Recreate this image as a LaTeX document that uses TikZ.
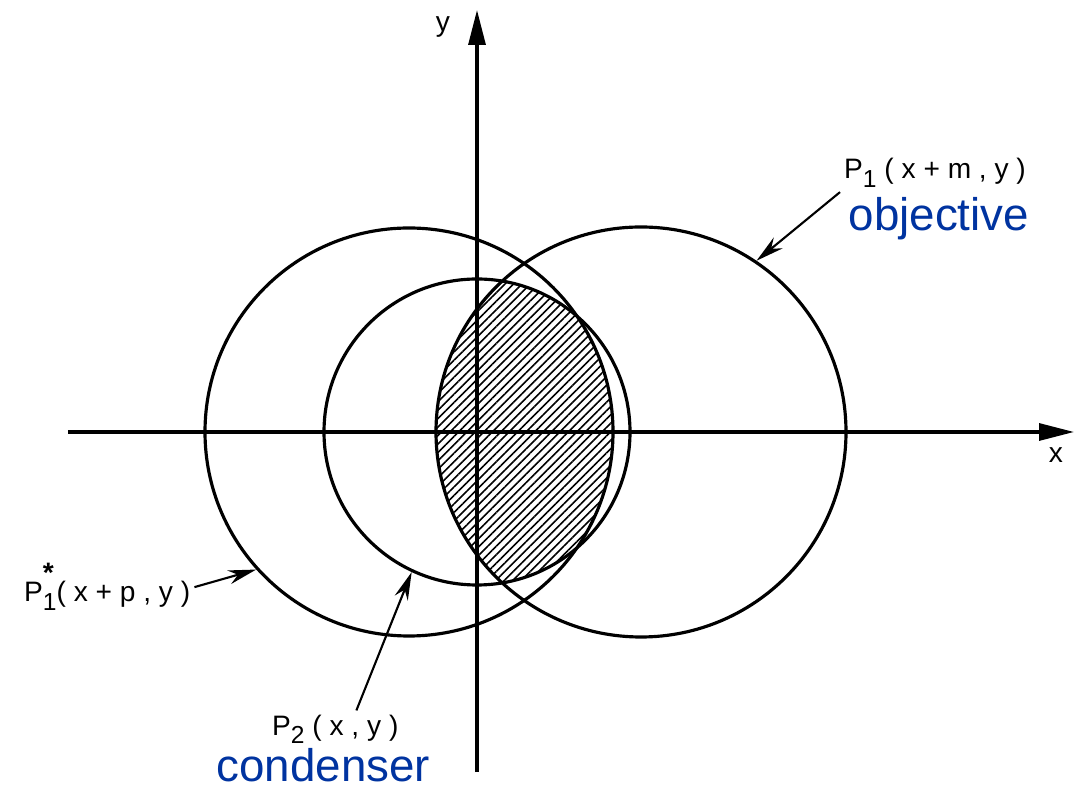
\documentclass[tikz,border=0pt]{standalone}
\usepackage{fontspec}
\setmainfont{Liberation Sans}
\usetikzlibrary{arrows.meta,patterns.meta}
\definecolor{labelBlue}{RGB}{0,51,160}
\newcommand{\lowidx}[1]{\raisebox{-0.6ex}{\fontsize{7}{8}\selectfont #1}}

\begin{document}
\begin{tikzpicture}[
  ring/.style={draw, circle, line width=0.9pt, inner sep=0pt},
  axis/.style={line width=0.9pt, -{Triangle[length=3.5mm,width=1.7mm]}},
  pointer/.style={line width=0.6pt, -{Stealth[length=2.8mm,width=1.4mm]}},
  eqn/.style={font=\fontsize{8}{9}\selectfont, inner sep=1pt},
  role/.style={font=\fontsize{13}{15}\selectfont, text=labelBlue, inner sep=0pt}
]
\useasboundingbox (-4.77,-3.57) rectangle (5.98,4.32);
% hatched overlap of the three discs
\begin{scope}
  \clip (-0.68,0) circle (2.04);
  \clip (1.64,0) circle (2.05);
  \fill[pattern={Lines[angle=45,distance=1.7pt,line width=0.45pt]}] (0,0) circle (1.53);
\end{scope}
\node[ring, minimum size=4.08cm] (shifted) at (-0.68,0) {};
\node[ring, minimum size=4.10cm] (objective) at (1.64,0) {};
\node[ring, minimum size=3.06cm] (condenser) at (0,0) {};
% axes
\coordinate (xstart) at (-4.09,0);
\coordinate (xend) at (5.97,0);
\coordinate (ystart) at (0,-3.40);
\coordinate (yend) at (0,4.22);
\draw[axis] (xstart) -- (xend);
\draw[axis] (ystart) -- (yend);
\node[eqn] (xlab) at (5.79,-0.23) {x};
\node[eqn] (ylab) at (-0.34,4.05) {y};
% labels
\node[eqn, anchor=base west] (objeq) at (3.63,2.53) {P\lowidx{1} ( x + m , y )};
\node[role, anchor=base west] (objname) at (3.71,2.01) {objective};
\node[eqn, anchor=base west] (shifteq) at (-4.57,-1.70) {P\rlap{\raisebox{1.3ex}{\bfseries *}}\lowidx{1}( x + p , y )};
\node[eqn, anchor=base west] (condeq) at (-2.09,-3.03) {P\lowidx{2} ( x , y )};
\node[role, anchor=base west] (condname) at (-2.61,-3.49) {condenser};
\draw[pointer] (objeq.south west) -- (objective.56);
\draw[pointer] (shifteq.east) -- (shifted.222);
\draw[pointer] ([xshift=6pt]condeq.north) -- (condenser.245);
\end{tikzpicture}
\end{document}
